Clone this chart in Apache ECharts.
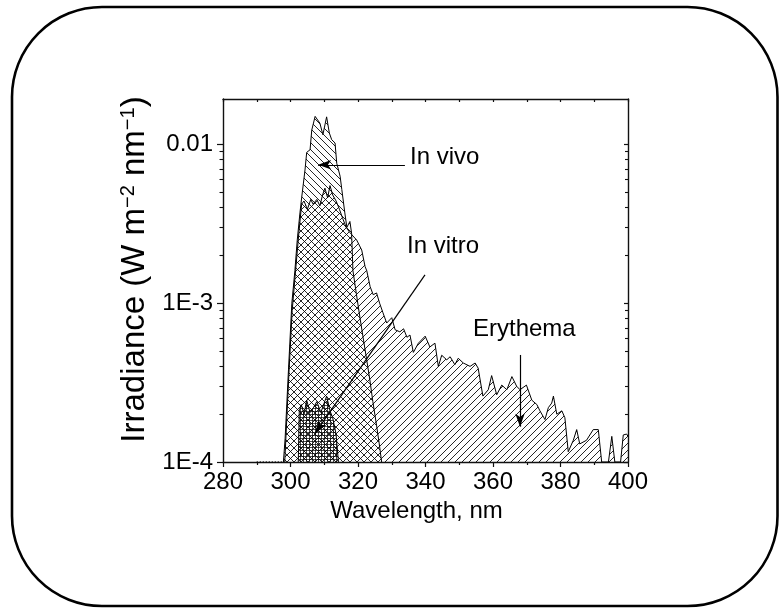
<!DOCTYPE html>
<html><head><meta charset="utf-8">
<script src="https://cdn.jsdelivr.net/npm/echarts@6/dist/echarts.min.js"></script>
<style>html,body{margin:0;padding:0;background:#fff}#c{width:779px;height:608px}</style>
</head><body><div id="c"></div>
<script>
// ---- data (wavelength nm, irradiance W m^-2 nm^-1) ----
const erythema = [
  [298.3,1e-4],[299.5,3.5e-4],[300.5,9e-4],[301.5,1.6e-3],[302.5,2.8e-3],[303.3,4.2e-3],[304,4.4e-3],
  [305,3.9e-3],[306,4.5e-3],[306.7,4.2e-3],[307.8,4.5e-3],[308.7,4.1e-3],[309.5,4.8e-3],[310.2,5.3e-3],
  [311,4.6e-3],[311.7,5.5e-3],[312.5,4.8e-3],[313.5,4.4e-3],[314.5,3.9e-3],[315.5,3.4e-3],[316.5,3.0e-3],
  [317.5,2.8e-3],[318.5,2.65e-3],[319.6,2.5e-3],[321.1,2.16e-3],[322.1,1.7e-3],[322.6,1.6e-3],
  [323.6,1.27e-3],[324.5,1.13e-3],[325.5,1.16e-3],[326.4,1.0e-3],[327.4,8.7e-4],[328.5,7.5e-4],
  [330,8.1e-4],[331,6.8e-4],[332.4,6.6e-4],[333.5,6.9e-4],[334.5,6.1e-4],[335.4,6.3e-4],[336.4,4.9e-4],
  [337.9,5.6e-4],[339.9,6.2e-4],[341.3,5.3e-4],[342.8,5.6e-4],[343.8,4.0e-4],[344.8,4.7e-4],
  [346.3,4.4e-4],[347.3,4.6e-4],[348.7,4.1e-4],[349.7,4.5e-4],[351.2,4.2e-4],[353.2,4.0e-4],
  [354.7,4.2e-4],[355.6,3.9e-4],[357.0,2.6e-4],[358.6,2.85e-4],[359.6,3.5e-4],[361.1,2.65e-4],
  [362.6,3.05e-4],[364.1,2.85e-4],[365.6,3.45e-4],[367.0,3.0e-4],[368.0,2.85e-4],[369.9,3.05e-4],
  [371.5,2.45e-4],[373.0,2.3e-4],[373.9,2.1e-4],[375.4,1.85e-4],[376.4,2.2e-4],[377.4,2.35e-4],
  [377.9,2.6e-4],[378.9,2.0e-4],[380.4,2.1e-4],[381.3,1.9e-4],[382.3,1.16e-4],[383.8,1.37e-4],
  [384.8,1.6e-4],[385.7,1.3e-4],[387.7,1.37e-4],[389.7,1.6e-4],[391.2,1.6e-4],[392.2,1e-4],
  [394.2,1e-4],[395.2,1.45e-4],[396.1,1e-4],[397.8,1e-4],[398.6,1.48e-4],[399.6,1.5e-4],[400,1.45e-4]
];
const inVivo = [
  [297.9,1e-4],[298.4,1.4e-4],[299.4,3.8e-4],[300.4,1e-3],[301.3,1.6e-3],[302,2.5e-3],[302.8,3.7e-3],
  [303.3,4.6e-3],[304.3,6.9e-3],[304.8,8.9e-3],[305.8,9.25e-3],[306.3,0.0123],[307.3,0.015],
  [307.8,0.0154],[308.7,0.0136],[309.6,0.0115],[310.7,0.0149],[311.5,0.0118],[312.2,0.0107],
  [313.2,0.0102],[313.7,7.6e-3],[314.7,6.3e-3],[315.2,5.2e-3],[316.1,3.7e-3],[316.7,3.0e-3],
  [317.6,3.27e-3],[318.1,2.76e-3],[318.5,1.6e-3],[319.5,1.15e-3],[320.5,8.3e-4],[321.5,6.1e-4],
  [322.5,4.5e-4],[323.5,3.3e-4],[324.4,2.4e-4],[325.5,1.7e-4],[326.3,1.3e-4],[327,1e-4]
];
const inVitro = [
  [302.3,1e-4],[302.6,2.1e-4],[303.2,2.3e-4],[304,2.0e-4],[304.8,2.45e-4],[305.8,2.05e-4],
  [306.8,2.2e-4],[307.8,2.4e-4],[309,2.05e-4],[310.7,2.6e-4],[311.7,2.1e-4],[312.5,1.9e-4],
  [313.5,1.5e-4],[314.2,1e-4]
];
const baselineDots = [[290,1e-4],[298,1e-4]];
const xTickValues = [280,300,320,340,360,380,400];
const yMajorValues = [1e-4,1e-3,1e-2];
const yMajorLabels = ['1E-4','1E-3','0.01'];
const yMinorValues = [2e-4,3e-4,4e-4,5e-4,6e-4,7e-4,8e-4,9e-4,2e-3,3e-3,4e-3,5e-3,6e-3,7e-3,8e-3,9e-3];
const annotations = [
  {text:'In vivo', from:[333.9,7.44e-3], to:[308.2,7.44e-3]},
  {text:'In vitro', from:[339.85,1.508e-3], to:[307.3,1.52e-4]},
  {text:'Erythema', from:[368.0,4.72e-4], to:[368.0,1.67e-4]}
];

// ---- patterns ----
function hatch(dir, s) {
  const c = document.createElement('canvas'); c.width = s; c.height = s;
  const g = c.getContext('2d'); g.strokeStyle = '#000'; g.lineWidth = 0.85;
  g.beginPath();
  if (dir === '/') {
    g.moveTo(0, s); g.lineTo(s, 0);
    g.moveTo(-1, 1); g.lineTo(1, -1);
    g.moveTo(s - 1, s + 1); g.lineTo(s + 1, s - 1);
  } else {
    g.moveTo(0, 0); g.lineTo(s, s);
    g.moveTo(-1, s - 1); g.lineTo(1, s + 1);
    g.moveTo(s - 1, -1); g.lineTo(s + 1, 1);
  }
  g.stroke();
  return {image: c, repeat: 'repeat'};
}
function grid(s) {
  const c = document.createElement('canvas'); c.width = s; c.height = s;
  const g = c.getContext('2d'); g.fillStyle = 'rgba(0,0,0,0.7)';
  g.fillRect(0, 0, s, 1); g.fillRect(0, 0, 1, s);
  return {image: c, repeat: 'repeat'};
}

const FONT = "'Liberation Sans', Arial, sans-serif";
const chart = echarts.init(document.getElementById('c'), null, {renderer: 'canvas'});
const yMin = 1e-4, yMax = 0.0193;
const axisLine = {show: true, lineStyle: {color: '#111', width: 1.4}};

function areaSeries(name, data, pattern) {
  return {
    name, type: 'line', data, showSymbol: false, symbol: 'none', smooth: false,
    lineStyle: {color: '#000', width: 1},
    areaStyle: {color: pattern, opacity: 1, origin: 'start'},
    silent: true, xAxisIndex: 0, yAxisIndex: 0
  };
}

const vitroSeries = areaSeries('In vitro', inVitro, grid(3));
vitroSeries.markLine = {
  silent: true, symbol: ['none', 'arrow'], symbolSize: [7, 13], animation: false,
  label: {show: false},
  lineStyle: {color: '#000', width: 1.2, type: 'solid'},
  emphasis: {disabled: true},
  data: annotations.map(a => [{coord: a.from}, {coord: a.to}])
};

chart.setOption({
  animation: false,
  backgroundColor: '#fff',
  grid: {left: 223, right: 151, top: 99, bottom: 146, containLabel: false},
  xAxis: [{
    type: 'value', position: 'bottom', min: 280, max: 400, interval: 20,
    name: 'Wavelength, nm', nameLocation: 'middle', nameGap: 33,
    nameTextStyle: {fontFamily: FONT, fontSize: 24, color: '#000', padding: [0, 18, 0, 0]},
    axisLine, axisTick: {show: true, inside: false, length: 5, lineStyle: {color: '#111', width: 1.2}},
    minorTick: {show: true, splitNumber: 2, length: 3, lineStyle: {color: '#111', width: 1.2}},
    axisLabel: {fontFamily: FONT, fontSize: 24, color: '#000', margin: 8,
      formatter: v => xTickValues.indexOf(v) >= 0 ? String(v) : ''},
    splitLine: {show: false}
  }, {
    type: 'value', position: 'top', min: 280, max: 400, interval: 20,
    axisLine, axisTick: {show: true, inside: true, length: 3, lineStyle: {color: '#111', width: 1.2}},
    minorTick: {show: true, splitNumber: 2, length: 3, lineStyle: {color: '#111', width: 1.2}},
    axisLabel: {show: false}, splitLine: {show: false}
  }],
  yAxis: [{
    type: 'log', logBase: 10, min: yMin, max: yMax, position: 'left',
    name: 'Irradiance (W m{s|\u22122} nm{s|\u22121})', nameLocation: 'middle', nameGap: 67,
    nameTextStyle: {fontFamily: FONT, fontSize: 33, color: '#000', padding: [0, 0, 0, 22],
      rich: {s: {fontFamily: FONT, fontSize: 20, color: '#000', verticalAlign: 'top', padding: [0, 0, 13, 0]}}},
    axisLine, axisTick: {show: true, inside: false, length: 6, customValues: yMajorValues,
      lineStyle: {color: '#111', width: 1.2}},
    axisLabel: {fontFamily: FONT, fontSize: 24, color: '#000', margin: 10, customValues: yMajorValues,
      formatter: v => { const i = yMajorValues.findIndex(t => Math.abs(Math.log10(t) - Math.log10(v)) < 1e-6); return i >= 0 ? yMajorLabels[i] : ''; }},
    splitLine: {show: false}, minorTick: {show: false}
  }, {
    type: 'log', logBase: 10, min: yMin, max: yMax, position: 'left',
    axisLine: {show: false},
    axisTick: {show: true, inside: false, length: 3.5, customValues: yMinorValues, lineStyle: {color: '#111', width: 1.1}},
    axisLabel: {show: false}, splitLine: {show: false}
  }, {
    type: 'log', logBase: 10, min: yMin, max: yMax, position: 'right',
    axisLine, axisTick: {show: true, inside: true, length: 4, customValues: yMajorValues, lineStyle: {color: '#111', width: 1.2}},
    axisLabel: {show: false}, splitLine: {show: false}
  }, {
    type: 'log', logBase: 10, min: yMin, max: yMax, position: 'right',
    axisLine: {show: false},
    axisTick: {show: true, inside: true, length: 3, customValues: yMinorValues, lineStyle: {color: '#111', width: 1.1}},
    axisLabel: {show: false}, splitLine: {show: false}
  }],
  series: [
    areaSeries('Erythema', erythema, hatch('/', 7)),
    areaSeries('In vivo', inVivo, hatch('\\', 7)),
    vitroSeries,
    {type: 'line', data: baselineDots, showSymbol: false, symbol: 'none', silent: true,
     lineStyle: {color: '#000', width: 1.5, type: [1, 2]}}
  ],
  graphic: [
    {type: 'rect', silent: true, z: 100,
     shape: {x: 12, y: 7, width: 765.5, height: 599, r: 90},
     style: {fill: 'none', stroke: '#000', lineWidth: 2.6}},
    {type: 'text', silent: true, z: 100, x: 410, y: 157,
     style: {text: 'In vivo', font: '24px ' + FONT, fill: '#000', verticalAlign: 'middle'}},
    {type: 'text', silent: true, z: 100, x: 407, y: 246,
     style: {text: 'In vitro', font: '24px ' + FONT, fill: '#000', verticalAlign: 'middle'}},
    {type: 'text', silent: true, z: 100, x: 473, y: 329,
     style: {text: 'Erythema', font: '24px ' + FONT, fill: '#000', verticalAlign: 'middle'}}
  ]
});
</script></body></html>
